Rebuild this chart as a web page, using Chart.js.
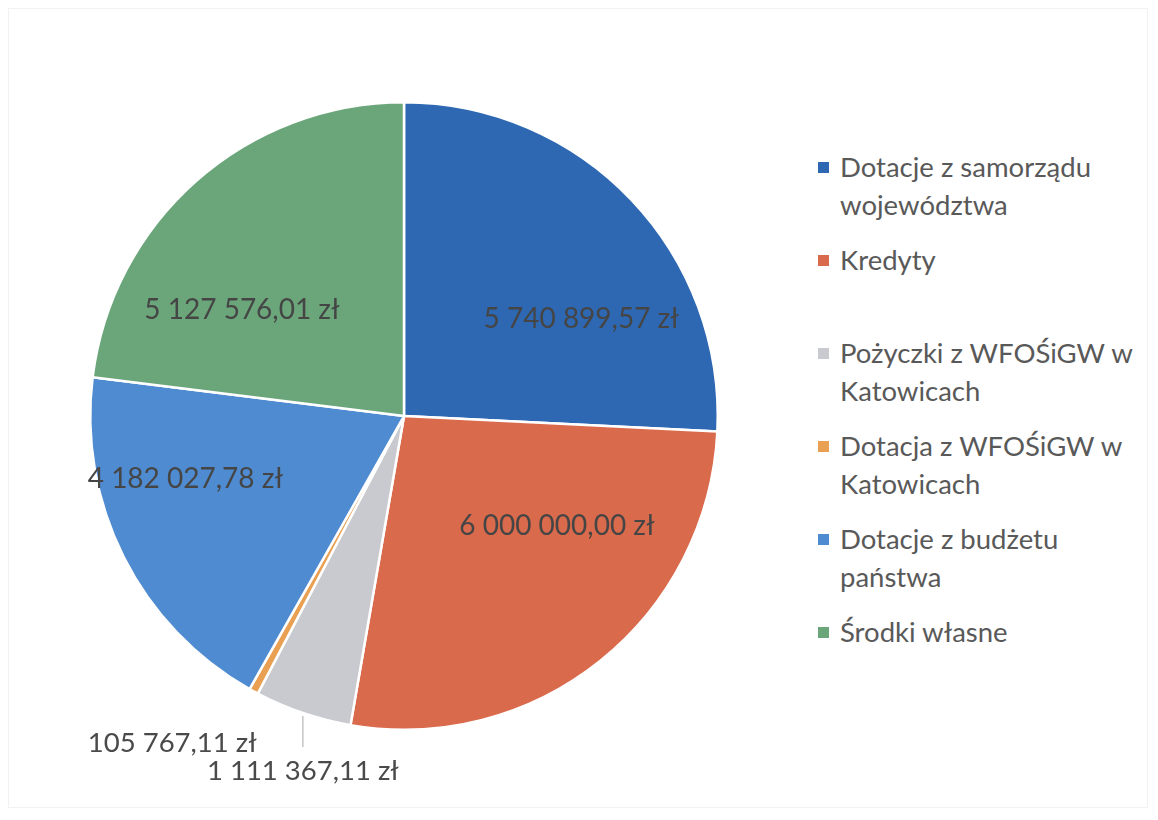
<!DOCTYPE html>
<html lang="pl">
<head>
<meta charset="utf-8">
<script src="https://cdn.jsdelivr.net/npm/chart.js@4.4.1/dist/chart.umd.min.js"></script>
<style>
  html, body { margin: 0; padding: 0; background: #fff; }
  body { width: 1158px; height: 820px; position: relative; overflow: hidden; font-family: Lato, "Liberation Sans", sans-serif; }
  .frame { position: absolute; left: 8px; top: 8px; width: 1140px; height: 800px; border: 1px solid #f2f2f2; box-sizing: border-box; }
  .chart-box { position: absolute; left: 0; top: 0; width: 810px; height: 820px; }
  #legend { position: absolute; left: 816px; top: 148px; width: 322px; }
  .legend-item { position: relative; min-height: 76px; margin-bottom: 17px; padding-left: 24px; font-size: 27.5px; line-height: 38px; color: #595959; }
  .legend-item:last-child { min-height: 0; }
  .legend-mark { position: absolute; left: 2px; top: 14px; width: 11px; height: 11px; }
</style>
</head>
<body>
<div class="frame"></div>
<div class="chart-box"><canvas id="fundsChart"></canvas></div>
<div id="legend"></div>

<script>
// ===============================
// Źródła finansowania – wykres kołowy
// ===============================

const categories = [
    "Dotacje z samorządu województwa",
    "Kredyty",
    "Pożyczki z WFOŚiGW w Katowicach",
    "Dotacja z WFOŚiGW w Katowicach",
    "Dotacje z budżetu państwa",
    "Środki własne"
];
const amounts = [5740899.57, 6000000.00, 1111367.11, 105767.11, 4182027.78, 5127576.01];
const colors = ["#2e68b2", "#da6a4c", "#c9cad0", "#e9a052", "#4f8bd0", "#6ba67b"];

// format "5 740 899,57 zł"
function formatZl(v) {
    const parts = v.toFixed(2).split(".");
    const intPart = parts[0].replace(/\B(?=(\d{3})+(?!\d))/g, " ");
    return `${intPart},${parts[1]} zł`;
}

// Data labels drawn on the slices (small slices get outside labels)
const sliceLabels = {
    id: "sliceLabels",
    afterDatasetsDraw(chart) {
        const ctx = chart.ctx;
        const meta = chart.getDatasetMeta(0);
        const total = amounts.reduce((s, v) => s + v, 0);
        ctx.save();
        ctx.textBaseline = "middle";
        meta.data.forEach((arc, i) => {
            const p = arc.getProps(["x", "y", "startAngle", "endAngle", "outerRadius"], true);
            const mid = (p.startAngle + p.endAngle) / 2;
            const text = formatZl(amounts[i]);
            const share = amounts[i] / total;
            if (share > 0.08) {
                ctx.font = "28px Lato, 'Liberation Sans', sans-serif";
                ctx.fillStyle = "#454545";
                ctx.textAlign = "center";
                const lx = p.x + Math.cos(mid) * p.outerRadius * 0.78;
                const ly = p.y + Math.sin(mid) * p.outerRadius * 0.45;
                ctx.fillText(text, lx, ly);
            } else {
                ctx.font = "27.5px Lato, 'Liberation Sans', sans-serif";
                const ex = p.x + Math.cos(mid) * p.outerRadius;
                const ey = p.y + Math.sin(mid) * p.outerRadius;
                ctx.fillStyle = "#4a4a4a";
                if (share > 0.02) {
                    // leader line + centered label below
                    ctx.strokeStyle = "#a6a6a6";
                    ctx.lineWidth = 1;
                    ctx.beginPath();
                    ctx.moveTo(ex, ey + 3);
                    ctx.lineTo(ex, ey + 34);
                    ctx.stroke();
                    ctx.textAlign = "center";
                    ctx.fillText(text, ex, ey + 58);
                } else {
                    ctx.textAlign = "right";
                    ctx.fillText(text, ex + 3, ey + 52);
                }
            }
        });
        ctx.restore();
    }
};

const ctx1 = document.getElementById("fundsChart").getContext("2d");
new Chart(ctx1, {
    type: "pie",
    data: {
        labels: categories,
        datasets: [{
            data: amounts,
            backgroundColor: colors,
            borderColor: "#ffffff",
            borderWidth: 2.5
        }]
    },
    options: {
        responsive: true,
        maintainAspectRatio: false,
        animation: false,
        layout: { padding: { left: 89, right: 91, top: 101, bottom: 89 } },
        plugins: {
            legend: { display: false },
            tooltip: { enabled: false }
        }
    },
    plugins: [sliceLabels]
});

// HTML legend on the right
const legendEl = document.getElementById("legend");
categories.forEach((name, i) => {
    const item = document.createElement("div");
    item.className = "legend-item";
    const mark = document.createElement("span");
    mark.className = "legend-mark";
    mark.style.background = colors[i];
    item.appendChild(mark);
    item.appendChild(document.createTextNode(name));
    legendEl.appendChild(item);
});
</script>
</body>
</html>
